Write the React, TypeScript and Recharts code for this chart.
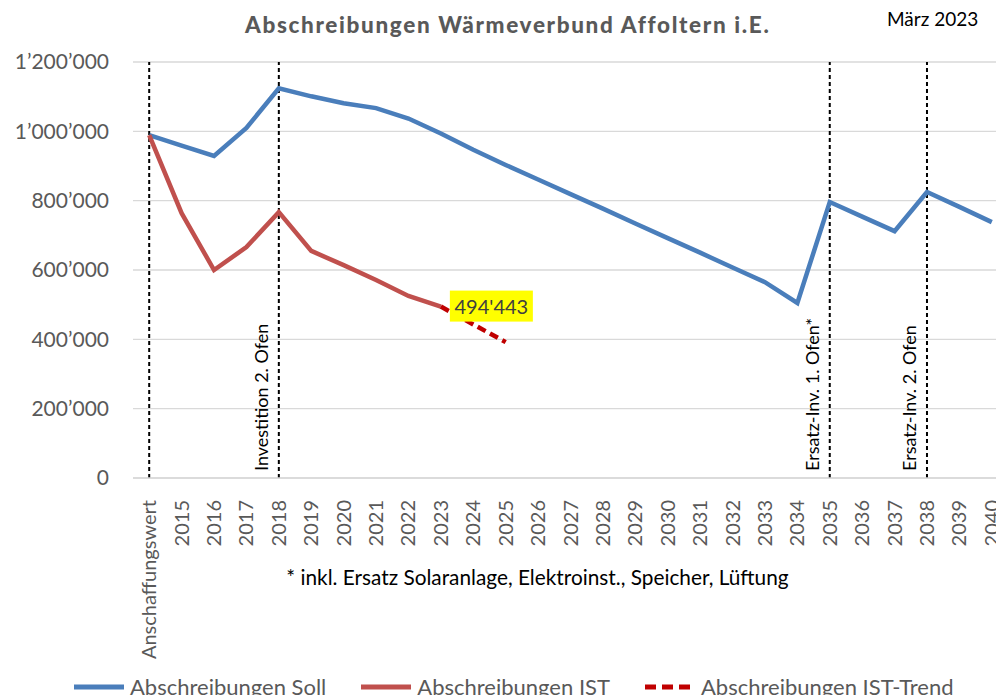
import React from "react";
import { LineChart, Line, XAxis, YAxis, CartesianGrid, ReferenceLine, LabelList } from "recharts";

const categories = [
  "Anschaffungswert", "2015", "2016", "2017", "2018", "2019", "2020", "2021", "2022",
  "2023", "2024", "2025", "2026", "2027", "2028", "2029", "2030", "2031", "2032",
  "2033", "2034", "2035", "2036", "2037", "2038", "2039", "2040",
];

const soll = [
  989000, 959000, 929000, 1010000, 1124000, 1101000, 1081000, 1067000, 1037000,
  994000, 947000, 903000, 861000, 819000, 777000, 734000, 692000, 650000, 607000,
  565000, 505000, 796000, 754000, 712000, 825000, 782000, 738000,
];

const ist: (number | null)[] = [
  989000, 764000, 600000, 666000, 767000, 655000, 614000, 571000, 525000,
  494443, null, null, null, null, null, null, null, null, null,
  null, null, null, null, null, null, null, null,
];

const istTrend: (number | null)[] = [
  null, null, null, null, null, null, null, null, null,
  494443, 443000, 392000, null, null, null, null, null, null, null,
  null, null, null, null, null, null, null, null,
];

const yTicks = [0, 200000, 400000, 600000, 800000, 1000000, 1200000];

const markers = [
  { at: "Anschaffungswert", text: "" },
  { at: "2018", text: "Investition 2. Ofen" },
  { at: "2035", text: "Ersatz-Inv. 1. Ofen*" },
  { at: "2038", text: "Ersatz-Inv. 2. Ofen" },
];

const series = [
  { key: "soll", name: "Abschreibungen Soll", color: "#4A7EBB", dash: undefined },
  { key: "ist", name: "Abschreibungen IST", color: "#C0504D", dash: undefined },
  { key: "trend", name: "Abschreibungen IST-Trend", color: "#C00000", dash: "9 5" },
];

const data = categories.map((cat, i) => ({
  cat,
  soll: soll[i],
  ist: ist[i],
  trend: istTrend[i],
}));

const FONT = "Lato, 'Open Sans', sans-serif";
const GREY = "#595959";

const fmt = (v: number) => String(v).replace(/\B(?=(\d{3})+(?!\d))/g, "\u2019");

function XTick({ x, y, payload }: any) {
  return (
    <text
      transform={`translate(${x},${y + 14}) rotate(-90)`}
      textAnchor="end"
      dy="0.35em"
      fontSize={20}
      fill={GREY}
      fontFamily={FONT}
    >
      {payload.value}
    </text>
  );
}

const markerLabel = (text: string) => (props: any) => {
  const vb = props.viewBox;
  if (!text || !vb) return null;
  return (
    <text
      transform={`translate(${vb.x - 11},${vb.y + vb.height - 7}) rotate(-90)`}
      fontSize={18}
      fill="#000"
      fontFamily={FONT}
    >
      {text}
    </text>
  );
};

function ValueTag(props: any) {
  const { x, y, index, value } = props;
  if (index !== 9) return null;
  return (
    <g>
      <rect x={x + 9} y={y - 16} width={83} height={31} fill="#FFFF00" />
      <text x={x + 50.5} y={y} dy="0.35em" textAnchor="middle" fontSize={20} fill="#404040" fontFamily={FONT}>
        {String(value).replace(/\B(?=(\d{3})+(?!\d))/g, "'")}
      </text>
    </g>
  );
}

export default function App() {
  return (
    <div
      style={{
        position: "fixed", left: 0, top: 0, width: 996, height: 695,
        overflow: "hidden", background: "#fff", fontFamily: FONT,
      }}
    >
      <div
        style={{
          position: "absolute", left: 245, top: 11, fontSize: 22.5, fontWeight: 900,
          letterSpacing: 1.65, color: GREY, whiteSpace: "nowrap",
        }}
      >
        Abschreibungen Wärmeverbund Affoltern i.E.
      </div>
      <div style={{ position: "absolute", left: 887, top: 7, fontSize: 19, color: "#000", whiteSpace: "nowrap" }}>März 2023</div>

      <LineChart width={1040} height={695} data={data} margin={{ top: 62, right: 32, left: 0, bottom: 0 }}>
        <CartesianGrid horizontal vertical={false} stroke="#D9D9D9" strokeWidth={1.3} />
        <XAxis
          dataKey="cat"
          interval={0}
          tickLine={false}
          axisLine={{ stroke: "#D9D9D9", strokeWidth: 1.3 }}
          height={217}
          padding={{ left: 16.2, right: 16.2 }}
          tick={<XTick />}
        />
        <YAxis
          domain={[0, 1200000]}
          ticks={yTicks}
          width={133}
          axisLine={false}
          tickLine={false}
          tickSize={0}
          tickMargin={24}
          tickFormatter={fmt}
          tick={{ fontSize: 21, fill: GREY, fontFamily: FONT }}
        />
        {markers.map((m) => (
          <ReferenceLine
            key={m.at}
            x={m.at}
            stroke="#000"
            strokeWidth={2}
            strokeDasharray="4 3"
            label={markerLabel(m.text)}
          />
        ))}
        <Line type="linear" dataKey="soll" stroke={series[0].color} strokeWidth={4.5} dot={false} isAnimationActive={false} />
        <Line type="linear" dataKey="ist" stroke={series[1].color} strokeWidth={4.5} dot={false} isAnimationActive={false} />
        <Line
          type="linear"
          dataKey="trend"
          stroke={series[2].color}
          strokeWidth={4.5}
          strokeDasharray="9 5"
          dot={false}
          isAnimationActive={false}
        >
          <LabelList dataKey="trend" content={<ValueTag />} />
        </Line>
      </LineChart>

      <div style={{ position: "absolute", left: 237, width: 601, top: 564, textAlign: "center", fontSize: 20.8, color: "#000", whiteSpace: "nowrap" }}>
        * inkl. Ersatz Solaranlage, Elektroinst., Speicher, Lüftung
      </div>

      <div style={{ position: "absolute", left: 73, top: 673, display: "flex", gap: 34, fontSize: 22, color: GREY, whiteSpace: "nowrap" }}>
        {series.map((s) => (
          <div key={s.key} style={{ display: "flex", alignItems: "center", gap: 5 }}>
            <svg width={52} height={10}>
              <line x1={1} y1={5} x2={51} y2={5} stroke={s.color} strokeWidth={5} strokeDasharray={s.dash ? "11 6" : undefined} />
            </svg>
            <span>{s.name}</span>
          </div>
        ))}
      </div>
    </div>
  );
}
